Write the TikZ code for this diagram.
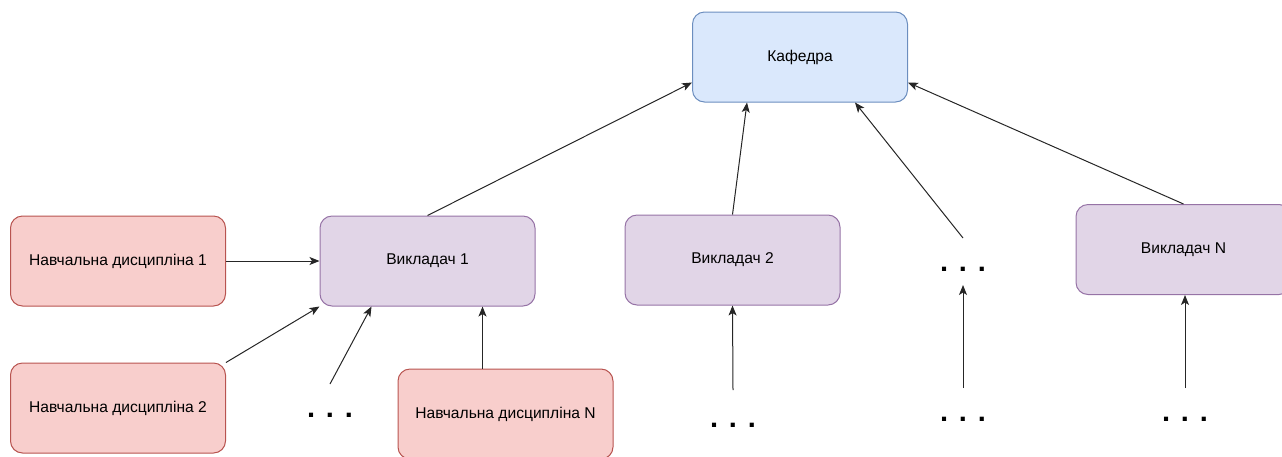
\documentclass[tikz,border=0pt]{standalone}
\usepackage{fontspec}
\setmainfont{Liberation Sans}
\usetikzlibrary{arrows.meta}
\definecolor{redfill}{HTML}{F8CECC}
\definecolor{redline}{HTML}{B85450}
\definecolor{purfill}{HTML}{E1D5E7}
\definecolor{purline}{HTML}{9673A6}
\definecolor{bluefill}{HTML}{DAE8FC}
\definecolor{blueline}{HTML}{6C8EBF}
\begin{document}
\begin{tikzpicture}[x=1pt,y=-1pt,
  box/.style={rounded corners=12pt, minimum width=215pt, minimum height=90pt, inner sep=0pt,
    font=\fontsize{15.6}{18}\selectfont, line width=1pt},
  disc/.style={box, fill=redfill, draw=redline},
  teach/.style={box, fill=purfill, draw=purline},
  dept/.style={box, fill=bluefill, draw=blueline},
  dots/.style={anchor=base, inner sep=0pt, font=\bfseries\fontsize{29}{32}\selectfont},
  arr/.style={line width=1pt, draw=black!85, -{Stealth[length=10pt,width=8pt,inset=2.5pt]}}]
\path[use as bounding box] (0,0) rectangle (1282,456);
\clip (0,0) rectangle (1282,456);

\node[dept]  (kaf) at (800,57) {Кафедра};
\node[disc]  (n1)  at (118,261) {Навчальна дисципліна 1};
\node[disc]  (n2)  at (118,408) {Навчальна дисципліна 2};
\node[teach] (v1)  at (427.5,261) {Викладач 1};
\node[disc]  (nN)  at (505.5,414) {Навчальна дисципліна N};
\node[teach] (v2)  at (732.5,260) {Викладач 2};
\node[teach] (vN)  at (1183.5,249.5) {Викладач N};

\node[dots] (d1) at (330,417) {. . .};
\node[dots] (d2) at (733,427) {. . .};
\node[dots] (d3) at (963,271) {. . .};
\node[dots] (d4) at (963,421) {. . .};
\node[dots] (d5) at (1185,421) {. . .};

\coordinate (d1top) at (330,384);
\coordinate (d2top) at (733,390);
\coordinate (d3top) at (963,238);
\coordinate (d3bot) at (963,285);
\coordinate (d4top) at (963,388);
\coordinate (d5top) at (1185,388);

\draw[arr] (v1.north) -- ([yshift=20pt]kaf.south west);
\draw[arr] (v2.north) -- ([xshift=-53pt]kaf.south);
\draw[arr] (d3top) -- ([xshift=55pt]kaf.south);
\draw[arr] (vN.north) -- ([yshift=20pt]kaf.south east);
\draw[arr] (n1.east) -- (v1.west);
\draw[arr] (n2.north east) -- (v1.south west);
\draw[arr] (d1top) -- ([xshift=52pt]v1.south west);
\draw[arr] ([xshift=-23pt]nN.north) -- ([xshift=55pt]v1.south);
\draw[arr] (d2top) -- (v2.south);
\draw[arr] (d4top) -- (d3bot);
\draw[arr] (d5top) -- ([xshift=1.5pt]vN.south);
\end{tikzpicture}
\end{document}
